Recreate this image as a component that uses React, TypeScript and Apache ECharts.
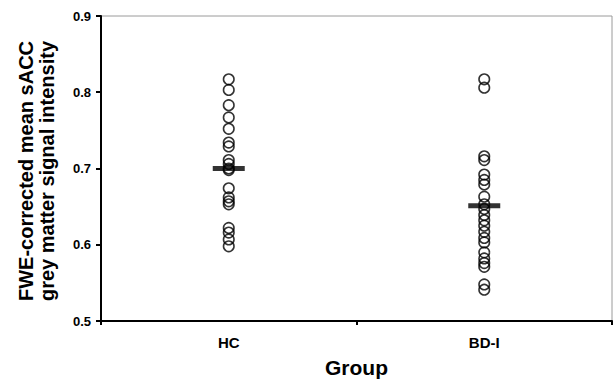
import React, { useEffect, useRef } from "react";
import * as echarts from "echarts";

const categories = ["HC", "BD-I"];
const hcValues = [
  0.817, 0.803, 0.783, 0.767, 0.752, 0.734, 0.729, 0.711, 0.706, 0.700, 0.698,
  0.674, 0.662, 0.657, 0.653, 0.622, 0.616, 0.607, 0.598,
];
const bdValues = [
  0.817, 0.806, 0.716, 0.711, 0.692, 0.685, 0.679, 0.663, 0.653, 0.647, 0.639,
  0.632, 0.625, 0.617, 0.609, 0.603, 0.590, 0.582, 0.576, 0.571, 0.548, 0.541,
];
const means = [0.7, 0.651];
const yTicks = { min: 0.5, max: 0.9, interval: 0.1 };
const yTitle = ["FWE-corrected mean sACC", "grey matter signal intensity"];
const xTitle = "Group";

export default function App() {
  const ref = useRef<HTMLDivElement>(null);
  useEffect(() => {
    if (!ref.current) return;
    const chart = echarts.init(ref.current, null, { renderer: "svg" });
    const font = "Arial, 'Liberation Sans', Helvetica, sans-serif";
    const pts: [number, number][] = [];
    hcValues.forEach((v) => pts.push([0, v]));
    bdValues.forEach((v) => pts.push([1, v]));
    chart.setOption({
      animation: false,
      backgroundColor: "#fff",
      grid: {
        left: 101,
        right: 2,
        top: 16,
        bottom: 56,
        show: true,
        borderColor: "#9a9a9a",
        borderWidth: 1,
      },
      xAxis: {
        type: "category",
        data: categories,
        boundaryGap: true,
        name: xTitle,
        nameLocation: "middle",
        nameGap: 36,
        nameTextStyle: { fontFamily: font, fontWeight: "bold", fontSize: 21, color: "#000" },
        axisLine: { lineStyle: { color: "#000", width: 2 } },
        axisTick: { show: true, length: 4, lineStyle: { color: "#000", width: 2 } },
        axisLabel: { fontFamily: font, fontWeight: "bold", fontSize: 15, color: "#000", margin: 14 },
        splitLine: { show: false },
      },
      yAxis: {
        type: "value",
        min: yTicks.min,
        max: yTicks.max,
        interval: yTicks.interval,
        axisLine: { show: true, lineStyle: { color: "#000", width: 2 } },
        axisTick: { show: true, length: 5, lineStyle: { color: "#000", width: 2 } },
        axisLabel: {
          fontFamily: font,
          fontWeight: "bold",
          fontSize: 13,
          color: "#000",
          margin: 10,
          formatter: (v: number) => v.toFixed(1),
        },
        splitLine: { show: false },
      },
      graphic: [
        {
          type: "text",
          x: 26,
          y: 171,
          rotation: Math.PI / 2,
          style: {
            text: yTitle[0],
            fontFamily: font,
            fontWeight: "bold",
            fontSize: 20,
            fill: "#000",
            textAlign: "center",
            textVerticalAlign: "middle",
          },
        },
        {
          type: "text",
          x: 47,
          y: 171,
          rotation: Math.PI / 2,
          style: {
            text: yTitle[1],
            fontFamily: font,
            fontWeight: "bold",
            fontSize: 20,
            fill: "#000",
            textAlign: "center",
            textVerticalAlign: "middle",
          },
        },
      ],
      series: [
        {
          type: "scatter",
          data: pts,
          symbol: "circle",
          symbolSize: 10.5,
          itemStyle: { color: "rgba(255,255,255,0)", borderColor: "#000", borderWidth: 1.6 },
          z: 2,
        },
        {
          type: "scatter",
          data: means.map((m, i) => [i, m]),
          symbol: "rect",
          symbolSize: [32, 5],
          itemStyle: { color: "#000" },
          z: 3,
        },
      ],
    });
    return () => chart.dispose();
  }, []);
  return <div ref={ref} style={{ width: 614, height: 383, position: "fixed", left: 0, top: 0 }} />;
}
